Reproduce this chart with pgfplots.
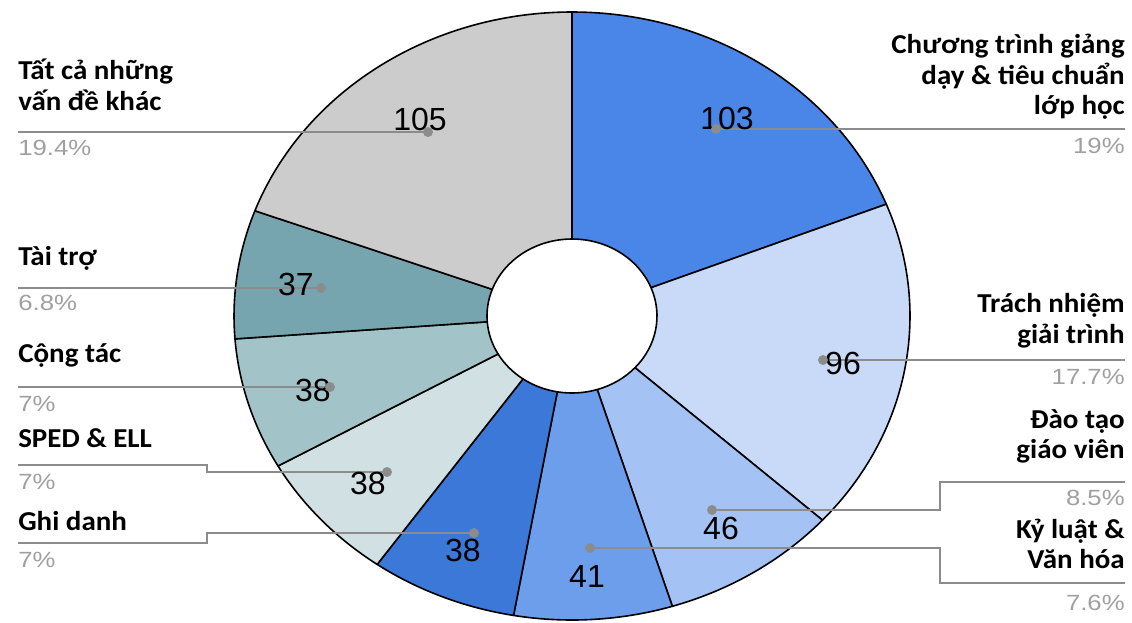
\documentclass[border=0pt]{standalone}
\usepackage{fontspec}
\usepackage{pgfplots}
\usepackage{pgfplotstable}
\pgfplotsset{compat=1.18}
\usetikzlibrary{calc}
\setmainfont{Liberation Sans}
\newfontfamily\lblfont{Carlito}
\newfontfamily\numfont{Liberation Sans}

\definecolor{s1}{HTML}{4A86E8}
\definecolor{s2}{HTML}{C9DAF8}
\definecolor{s3}{HTML}{A4C2F4}
\definecolor{s4}{HTML}{6D9EEB}
\definecolor{s5}{HTML}{3C78D8}
\definecolor{s6}{HTML}{D0E0E3}
\definecolor{s7}{HTML}{A2C4C9}
\definecolor{s8}{HTML}{76A5AF}
\definecolor{s9}{HTML}{CCCCCC}
\definecolor{leader}{HTML}{8C8C8C}
\definecolor{pctgray}{HTML}{A0A0A0}

% slices clockwise from 12 o'clock
\pgfplotstableread{
value color
103 s1
96  s2
46  s3
41  s4
38  s5
38  s6
38  s7
37  s8
105 s9
}\slicedata

\begin{document}
\begin{tikzpicture}[
  lbl/.style={font=\lblfont\bfseries\fontsize{20.5}{23}\selectfont, inner sep=0pt, xscale=1.06},
  pct/.style={font=\numfont\fontsize{16.5}{18}\selectfont, text=pctgray, inner sep=0pt, xscale=1.17},
  num/.style={font=\numfont\fontsize{24}{26}\selectfont, inner sep=0pt},
]
\path[use as bounding box] (0,0) rectangle (849pt,-466.5pt);
\begin{axis}[
  at={(0,0)}, anchor=north west,
  x=0.75pt, y=0.75pt, y dir=reverse,
  xmin=0, xmax=1132, ymin=0, ymax=622,
  hide axis, clip=false,
  leaderline/.style={leader, line width=2pt, no marks, forget plot},
]
% donut slices (pixel units, ellipse because the chart is stretched)
\pgfplotsextra{
  \pgfplotstablegetrowsof{\slicedata}
  \pgfmathtruncatemacro\nrows{\pgfplotsretval-1}
  \gdef\sumall{0}
  \foreach \i in {0,...,\nrows}{
    \pgfplotstablegetelem{\i}{value}\of{\slicedata}
    \pgfmathsetmacro\tmpsum{\sumall+\pgfplotsretval}
    \xdef\sumall{\tmpsum}
  }
  \gdef\cum{0}
  \foreach \i in {0,...,\nrows}{
    \pgfplotstablegetelem{\i}{value}\of{\slicedata}
    \edef\sval{\pgfplotsretval}
    \pgfplotstablegetelem{\i}{color}\of{\slicedata}
    \edef\scol{\pgfplotsretval}
    \pgfmathsetmacro\angA{90-360*(\cum/\sumall)}
    \pgfmathsetmacro\angB{90-360*((\cum+\sval)/\sumall)}
    \filldraw[fill=\scol, draw=black, line width=1.2pt, line join=round]
      ($(axis cs:572,316)+(\angA:253.5pt and 228pt)$)
      arc[start angle=\angA, end angle=\angB, x radius=253.5pt, y radius=228pt]
      -- ($(axis cs:572,316)+(\angB:63.75pt and 57.75pt)$)
      arc[start angle=\angB, end angle=\angA, x radius=63.75pt, y radius=57.75pt]
      -- cycle;
    \pgfmathsetmacro\nc{\cum+\sval}
    \xdef\cum{\nc}
  }
}

% leader lines
\addplot[leaderline] coordinates {(18,132) (428,132)};
\addplot[leaderline] coordinates {(18,288) (321,288)};
\addplot[leaderline] coordinates {(18,387) (330,387)};
\addplot[leaderline] coordinates {(18,465) (207,465) (207,472) (387,472)};
\addplot[leaderline] coordinates {(18,543) (207,543) (207,533) (474,533)};
\addplot[leaderline] coordinates {(716,129) (1125,129)};
\addplot[leaderline] coordinates {(823,360) (1125,360)};
\addplot[leaderline] coordinates {(712,510) (940,510) (940,482) (1125,482)};
\addplot[leaderline] coordinates {(590,548) (940,548) (940,583) (1125,583)};
\addplot[only marks, mark=*, mark size=3.5pt, mark options={draw=leader, fill=leader}, forget plot]
  coordinates {(428,132) (321,288) (330,387) (387,472) (474,533) (716,129) (823,360) (712,510) (590,548)};

% values on slices
\node[num] at (axis cs:727,118) {103};
\node[num] at (axis cs:843,363) {96};
\node[num] at (axis cs:721,528) {46};
\node[num] at (axis cs:587,576) {41};
\node[num] at (axis cs:463,550) {38};
\node[num] at (axis cs:368,483) {38};
\node[num] at (axis cs:313,390) {38};
\node[num] at (axis cs:296,284) {37};
\node[num] at (axis cs:420,119) {105};

% category labels, left
\node[lbl, anchor=base west] at (axis cs:18,79) {Tất cả những};
\node[lbl, anchor=base west] at (axis cs:18,110) {vấn đề khác};
\node[lbl, anchor=base west] at (axis cs:18,265) {Tài trợ};
\node[lbl, anchor=base west] at (axis cs:18,362) {Cộng tác};
\node[lbl, anchor=base west] at (axis cs:18,447) {SPED \& ELL};
\node[lbl, anchor=base west] at (axis cs:18,530) {Ghi danh};
% category labels, right
\node[lbl, anchor=base east] at (axis cs:1125,53) {Chương trình giảng};
\node[lbl, anchor=base east] at (axis cs:1125,84) {dạy \& tiêu chuẩn};
\node[lbl, anchor=base east] at (axis cs:1125,114) {lớp học};
\node[lbl, anchor=base east] at (axis cs:1125,312) {Trách nhiệm};
\node[lbl, anchor=base east] at (axis cs:1125,343) {giải trình};
\node[lbl, anchor=base east] at (axis cs:1125,428) {Đào tạo};
\node[lbl, anchor=base east] at (axis cs:1125,458) {giáo viên};
\node[lbl, anchor=base east] at (axis cs:1125,538) {Kỷ luật \&};
\node[lbl, anchor=base east] at (axis cs:1125,568) {Văn hóa};

% percentages
\node[pct, anchor=west] at (axis cs:18,148) {19.4\%};
\node[pct, anchor=west] at (axis cs:18,303) {6.8\%};
\node[pct, anchor=west] at (axis cs:18,404) {7\%};
\node[pct, anchor=west] at (axis cs:18,482) {7\%};
\node[pct, anchor=west] at (axis cs:18,560) {7\%};
\node[pct, anchor=east] at (axis cs:1125,146) {19\%};
\node[pct, anchor=east] at (axis cs:1125,377) {17.7\%};
\node[pct, anchor=east] at (axis cs:1125,498) {8.5\%};
\node[pct, anchor=east] at (axis cs:1125,603) {7.6\%};
\end{axis}
\end{tikzpicture}
\end{document}
